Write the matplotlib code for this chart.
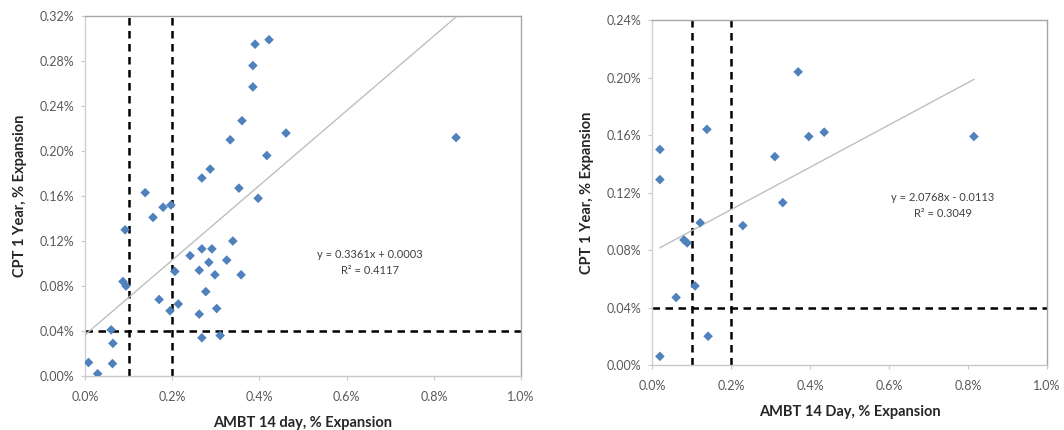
import numpy as np
import matplotlib.pyplot as plt
from matplotlib.ticker import FuncFormatter, MultipleLocator

# left chart: AMBT 14 day vs CPT 1 year (% expansion)
left_x = [0.390, 0.422, 0.385, 0.385, 0.360, 0.333, 0.417, 0.287, 0.268, 0.353,
          0.397, 0.138, 0.461, 0.851, 0.179, 0.197, 0.156, 0.092, 0.339, 0.268,
          0.291, 0.241, 0.325, 0.284, 0.206, 0.262, 0.298, 0.358, 0.087, 0.094,
          0.277, 0.170, 0.214, 0.195, 0.262, 0.302, 0.060, 0.064, 0.268, 0.310,
          0.008, 0.063, 0.029]
left_y = [0.295, 0.299, 0.276, 0.257, 0.227, 0.210, 0.196, 0.184, 0.176, 0.167,
          0.158, 0.163, 0.216, 0.212, 0.150, 0.152, 0.141, 0.130, 0.120, 0.113,
          0.113, 0.107, 0.103, 0.101, 0.093, 0.094, 0.090, 0.090, 0.084, 0.080,
          0.075, 0.068, 0.064, 0.058, 0.055, 0.060, 0.041, 0.029, 0.034, 0.036,
          0.012, 0.011, 0.002]

# right chart: AMBT 14 Day vs CPT 1 year
right_x = [0.020, 0.020, 0.139, 0.370, 0.397, 0.311, 0.331, 0.436, 0.815, 0.122,
           0.230, 0.081, 0.089, 0.109, 0.061, 0.142, 0.020]
right_y = [0.150, 0.129, 0.164, 0.204, 0.159, 0.145, 0.113, 0.162, 0.159, 0.099,
           0.097, 0.087, 0.085, 0.055, 0.047, 0.020, 0.006]

left_eq = "y = 0.3361x + 0.0003\nR² = 0.4117"
right_eq = "y = 2.0768x - 0.0113\nR² = 0.3049"

x_limits = [0.1, 0.2]
y_limit = 0.04

plt.rcParams['font.family'] = ['Lato', 'DejaVu Sans']

fig = plt.figure(figsize=(10.64, 4.30), dpi=100)
ax1 = fig.add_axes([0.0799, 0.1256, 0.4098, 0.837])
ax2 = fig.add_axes([0.6128, 0.1512, 0.3712, 0.802])


def style_axes(ax, ymax, xlabel):
    ax.set_xlim(0, 1.0)
    ax.set_ylim(0, ymax)
    ax.xaxis.set_major_locator(MultipleLocator(0.2))
    ax.yaxis.set_major_locator(MultipleLocator(0.04))
    ax.xaxis.set_major_formatter(FuncFormatter(lambda v, p: f"{v:.1f}%"))
    ax.yaxis.set_major_formatter(FuncFormatter(lambda v, p: f"{v:.2f}%"))
    for s in ax.spines.values():
        s.set_color("#A6A6A6")
        s.set_linewidth(1.0)
    ax.spines["left"].set_color("#D0D0D0")
    ax.spines["bottom"].set_color("#C8C8C8")
    ax.tick_params(colors="#C8C8C8", labelcolor="#595959", labelsize=9,
                   length=3, width=0.8)
    ax.tick_params(axis="x", pad=8)
    ax.tick_params(axis="y", pad=5)
    ax.set_xlabel(xlabel, fontsize=10.5, fontweight="bold", color="#262626",
                  labelpad=9)
    ax.set_ylabel("CPT 1 Year, % Expansion", fontsize=10.5, fontweight="bold",
                  color="#262626", labelpad=9)


def draw(ax, xs, ys, eq, eq_pos, ymax, xlabel):
    xs = np.array(xs)
    ys = np.array(ys)
    style_axes(ax, ymax, xlabel)
    for xv in x_limits:
        ax.axvline(xv, color="black", lw=1.8, dashes=(3, 2.2), zorder=2)
    ax.axhline(y_limit, color="black", lw=1.8, dashes=(3, 2.2), zorder=2)
    m, b = np.polyfit(xs, ys, 1)
    tx = np.array([xs.min() if xs.min() > 0.015 else 0.0, xs.max()])
    ax.plot(tx, m * tx + b, color="#BFBFBF", lw=1.0, zorder=3)
    ax.scatter(xs, ys, marker="D", s=24, color="#4F81BD", edgecolors="none",
               zorder=4)
    ax.text(eq_pos[0], eq_pos[1], eq, ha="center", va="center", fontsize=8,
            color="#404040", linespacing=1.6)


draw(ax1, left_x, left_y, left_eq, (0.654, 0.101), 0.32, "AMBT 14 day, % Expansion")
draw(ax2, right_x, right_y, right_eq, (0.737, 0.111), 0.24, "AMBT 14 Day, % Expansion")

fig.savefig("out.png", dpi=100)
